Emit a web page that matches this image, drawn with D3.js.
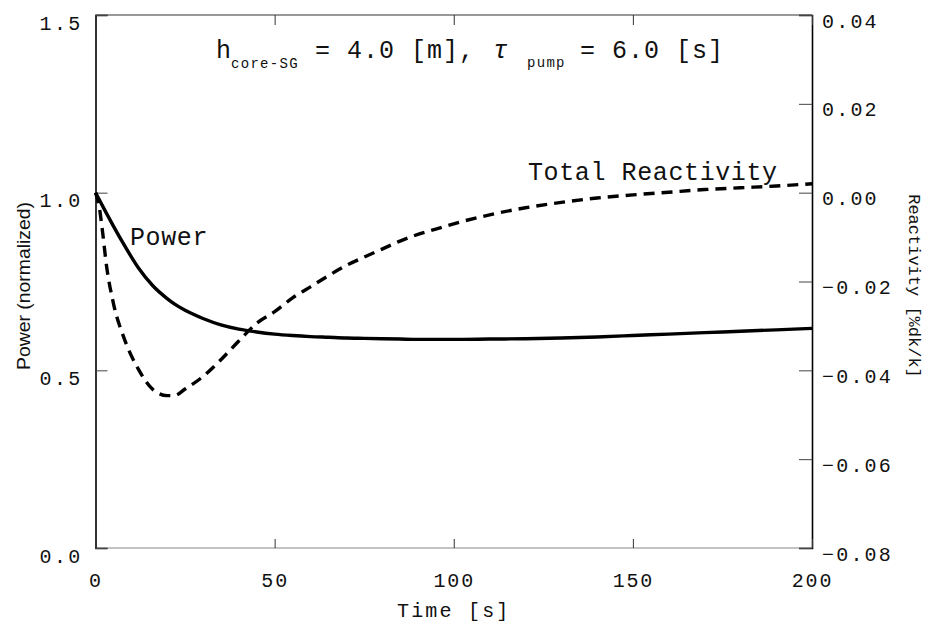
<!DOCTYPE html>
<html>
<head>
<meta charset="utf-8">
<script src="https://cdn.jsdelivr.net/npm/d3@7"></script>
<style>
  html, body { margin: 0; padding: 0; background: #fff; }
  svg { display: block; }
  .mono { font-family: "Liberation Mono", "DejaVu Sans Mono", monospace; fill: #111; }
</style>
</head>
<body>
<svg id="chart" width="932" height="628"></svg>
<script>
// Transient response: time [s], normalized power and total reactivity [%dk/k]
const time = [0, 1, 2, 3, 5, 8, 12, 16, 20, 22, 25, 30, 35, 40, 45, 50, 55, 60, 65, 70,
              75, 80, 85, 90, 95, 100, 110, 120, 130, 140, 150, 160, 170, 180, 190, 200];
const power = [1.000, 0.981, 0.962, 0.943, 0.906, 0.853, 0.788, 0.738, 0.702, 0.687,
               0.669, 0.646, 0.628, 0.616, 0.608, 0.602, 0.598, 0.595, 0.593, 0.591,
               0.590, 0.589, 0.588, 0.587, 0.587, 0.587, 0.588, 0.589, 0.591, 0.594,
               0.598, 0.602, 0.606, 0.610, 0.614, 0.618];
const reactivity = [0.0000, -0.0030, -0.0090, -0.0160, -0.0249, -0.0328, -0.0398, -0.0443,
                    -0.0457, -0.0457, -0.0442, -0.0414, -0.0376, -0.0334, -0.0294, -0.0268,
                    -0.0237, -0.0212, -0.0187, -0.0164, -0.0145, -0.0127, -0.0109, -0.0094,
                    -0.0082, -0.0070, -0.0050, -0.0034, -0.0022, -0.0012, -0.0005, 0.0001,
                    0.0007, 0.0011, 0.0015, 0.0020];

const timeTicks = [0, 50, 100, 150, 200];
const powerTicks = [0, 0.5, 1.0, 1.5];
const reactTicks = [-0.08, -0.06, -0.04, -0.02, 0.00, 0.02, 0.04];

const svg = d3.select("#chart");
const plotLeft = 95.5, plotRight = 812, plotTop = 15, plotBottom = 548;

const x = d3.scaleLinear().domain([0, 200]).range([plotLeft, plotRight]);
const yP = d3.scaleLinear().domain([0, 1.5]).range([plotBottom, plotTop]);
const yR = d3.scaleLinear().domain([-0.08, 0.04]).range([plotBottom, plotTop]);

const g = svg.append("g");

// Frame: bottom edge lighter, other edges dark
g.append("line").attr("x1", plotLeft).attr("x2", plotRight).attr("y1", plotBottom).attr("y2", plotBottom)
  .attr("stroke", "#888").attr("stroke-width", 1.2);
g.append("line").attr("x1", plotLeft).attr("x2", plotRight).attr("y1", plotTop).attr("y2", plotTop)
  .attr("stroke", "#333").attr("stroke-width", 1.2);

// Left axis (power)
const axL = d3.axisLeft(yP).tickValues(powerTicks).tickSize(-12).tickPadding(0).tickFormat(d3.format(".1f"));
const gL = g.append("g").attr("transform", `translate(${plotLeft},0)`).call(axL);
gL.select(".domain").attr("stroke", "#000").attr("stroke-width", 1.6);
gL.selectAll(".tick line").attr("stroke", "#444").attr("stroke-width", 1);
gL.selectAll(".tick text").attr("class", "mono").attr("font-size", 20)
  .attr("letter-spacing", 2.3).attr("x", -13).attr("dy", null).attr("y", 14)
  .attr("text-anchor", "end").attr("fill", "#111");

// Right axis (reactivity)
const axR = d3.axisRight(yR).tickValues(reactTicks).tickSize(-13).tickPadding(0)
  .tickFormat(d => d3.format(".2f")(d).replace("-", "\u2212"));
const gR = g.append("g").attr("transform", `translate(${plotRight},0)`).call(axR);
gR.select(".domain").attr("stroke", "#000").attr("stroke-width", 1.6);
gR.selectAll(".tick line").attr("stroke", "#444").attr("stroke-width", 1);
gR.selectAll(".tick text").attr("class", "mono").attr("font-size", 20)
  .attr("letter-spacing", 2.2).attr("x", 10).attr("dy", null).attr("y", 12)
  .attr("text-anchor", "start").attr("fill", "#111");

// Bottom axis (time)
const axB = d3.axisBottom(x).tickValues(timeTicks).tickSize(-9).tickPadding(0).tickFormat(d3.format("d"));
const gB = g.append("g").attr("transform", `translate(0,${plotBottom})`).call(axB);
gB.select(".domain").remove();
gB.selectAll(".tick line").attr("stroke", "#333").attr("stroke-width", 1);
gB.selectAll(".tick text").attr("class", "mono").attr("font-size", 20)
  .attr("letter-spacing", 1.8).attr("dy", null).attr("y", 39).attr("fill", "#111");

// Top axis ticks
const axT = d3.axisTop(x).tickValues(timeTicks).tickSize(-10).tickFormat("");
const gT = g.append("g").attr("transform", `translate(0,${plotTop})`).call(axT);
gT.select(".domain").remove();
gT.selectAll(".tick line").attr("stroke", "#333").attr("stroke-width", 1);

// Curves
const linePower = d3.line().x((d, i) => x(time[i])).y(d => yP(d)).curve(d3.curveMonotoneX);
const lineReact = d3.line().x((d, i) => x(time[i])).y(d => yR(d)).curve(d3.curveMonotoneX);

g.append("path").datum(power).attr("d", linePower)
  .attr("fill", "none").attr("stroke", "#000").attr("stroke-width", 3.4);
g.append("path").datum(reactivity).attr("d", lineReact)
  .attr("fill", "none").attr("stroke", "#000").attr("stroke-width", 3.4)
  .attr("stroke-dasharray", "11,7");

// Curve labels
g.append("text").attr("class", "mono").attr("x", 130).attr("y", 245)
  .attr("font-size", 25).attr("letter-spacing", 0.6).text("Power");
g.append("text").attr("class", "mono").attr("x", 528).attr("y", 180)
  .attr("font-size", 25).attr("letter-spacing", 0.6).text("Total Reactivity");

// Parameter caption
const cap = g.append("g");
cap.append("text").attr("class", "mono").attr("x", 216).attr("y", 58).attr("font-size", 25).text("h");
cap.append("text").attr("class", "mono").attr("x", 231).attr("y", 68).attr("font-size", 14)
  .attr("letter-spacing", 1.3).text("core-SG");
cap.append("text").attr("class", "mono").attr("x", 315).attr("y", 58).attr("font-size", 25)
  .attr("letter-spacing", 1).attr("xml:space", "preserve").text("= 4.0 [m],");
cap.append("text").attr("class", "mono").attr("x", 493).attr("y", 58).attr("font-size", 25)
  .attr("font-style", "italic").text("\u03c4");
cap.append("text").attr("class", "mono").attr("x", 527).attr("y", 67).attr("font-size", 14)
  .attr("letter-spacing", 1.3).text("pump");
cap.append("text").attr("class", "mono").attr("x", 580).attr("y", 58).attr("font-size", 25)
  .attr("letter-spacing", 1).attr("xml:space", "preserve").text("= 6.0 [s]");

// Axis titles
g.append("text").attr("class", "mono").attr("x", (plotLeft + plotRight) / 2).attr("y", 617)
  .attr("text-anchor", "middle").attr("font-size", 20).attr("letter-spacing", 2.2).text("Time [s]");
g.append("text").attr("transform", "translate(30,286) rotate(-90)")
  .attr("text-anchor", "middle").attr("font-family", "Liberation Sans, Arial, sans-serif")
  .attr("font-size", 18).attr("fill", "#111").attr("textLength", 168).attr("lengthAdjust", "spacingAndGlyphs")
  .text("Power (normalized)");
g.append("text").attr("class", "mono").attr("transform", "translate(909,286) rotate(90)")
  .attr("text-anchor", "middle").attr("font-size", 17).text("Reactivity [%dk/k]");
</script>
</body>
</html>
